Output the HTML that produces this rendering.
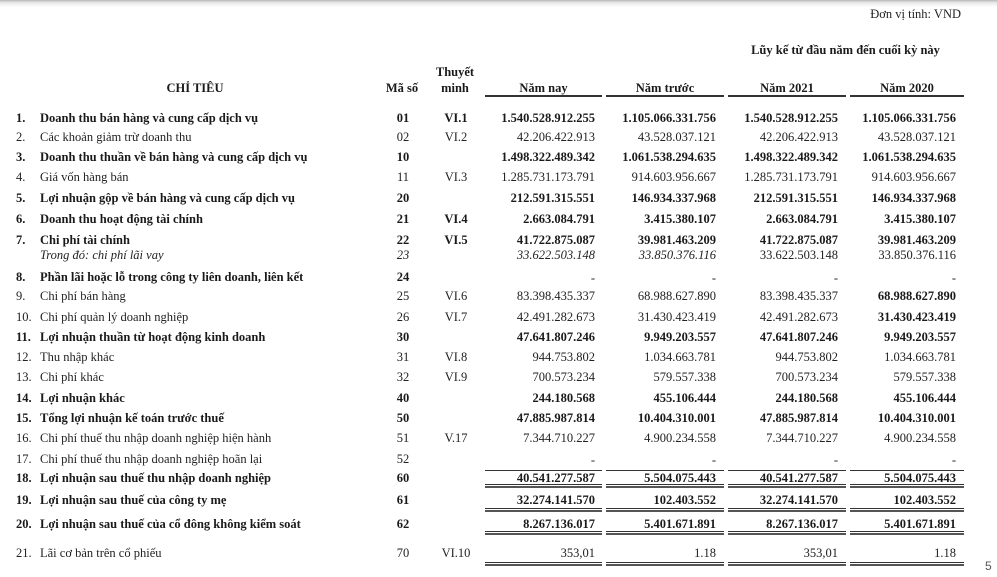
<!DOCTYPE html>
<html>
<head>
<meta charset="utf-8">
<style>
html,body{margin:0;padding:0;background:#fff;}
body{width:997px;height:577px;position:relative;overflow:hidden;font-family:"Liberation Serif",serif;font-size:12.5px;color:#222;}
.topbar{position:absolute;left:0;top:0;width:997px;height:7px;background:linear-gradient(#b8b8b8,#e6e6e6 35%,#fff);}
.t{position:absolute;line-height:14px;white-space:nowrap;}
.b{font-weight:bold;color:#1a1a1a;}
.i{font-style:italic;}
.n{left:16px;}
.l{left:40px;}
.c{left:378px;width:50px;text-align:center;}
.m{left:428px;width:56px;text-align:center;}
.v1{left:440px;width:155px;text-align:right;}
.v2{left:560px;width:156px;text-align:right;}
.v3{left:680px;width:158px;text-align:right;}
.v4{left:800px;width:156px;text-align:right;}
.h{position:absolute;background:#333;}
</style>
</head>
<body>
<div class="topbar"></div>

<div class="t" style="left:800px;width:161px;text-align:right;top:7px;">Đơn vị tính: VND</div>
<div class="t b" style="left:700px;width:291px;text-align:center;top:43px;font-size:12.5px;">Lũy kế từ đầu năm đến cuối kỳ này</div>

<div class="t b" style="left:140px;width:110px;text-align:center;top:81px;">CHỈ TIÊU</div>
<div class="t b" style="left:377px;width:50px;text-align:center;top:81px;">Mã số</div>
<div class="t b" style="left:425px;width:60px;text-align:center;top:65px;">Thuyết</div>
<div class="t b" style="left:425px;width:60px;text-align:center;top:81px;">minh</div>

<div class="t b" style="left:485px;width:117px;text-align:center;top:81px;">Năm nay</div>
<div class="t b" style="left:606px;width:118px;text-align:center;top:81px;">Năm trước</div>
<div class="t b" style="left:728px;width:118px;text-align:center;top:81px;">Năm 2021</div>
<div class="t b" style="left:850px;width:114px;text-align:center;top:81px;">Năm 2020</div>

<div class="h" style="left:485px;top:95px;width:117px;height:1.5px;"></div>
<div class="h" style="left:606px;top:95px;width:118px;height:1.5px;"></div>
<div class="h" style="left:728px;top:95px;width:118px;height:1.5px;"></div>
<div class="h" style="left:850px;top:95px;width:114px;height:1.5px;"></div>

<!-- Row 1 -->
<div class="t b n" style="top:111px">1.</div>
<div class="t b l" style="top:111px">Doanh thu bán hàng và cung cấp dịch vụ</div>
<div class="t b c" style="top:111px">01</div>
<div class="t b m" style="top:111px">VI.1</div>
<div class="t b v1" style="top:111px">1.540.528.912.255</div>
<div class="t b v2" style="top:111px">1.105.066.331.756</div>
<div class="t b v3" style="top:111px">1.540.528.912.255</div>
<div class="t b v4" style="top:111px">1.105.066.331.756</div>

<!-- Row 2 -->
<div class="t n" style="top:130px">2.</div>
<div class="t l" style="top:130px">Các khoản giảm trừ doanh thu</div>
<div class="t c" style="top:130px">02</div>
<div class="t m" style="top:130px">VI.2</div>
<div class="t v1" style="top:130px">42.206.422.913</div>
<div class="t v2" style="top:130px">43.528.037.121</div>
<div class="t v3" style="top:130px">42.206.422.913</div>
<div class="t v4" style="top:130px">43.528.037.121</div>

<!-- Row 3 -->
<div class="t b n" style="top:150px">3.</div>
<div class="t b l" style="top:150px">Doanh thu thuần về bán hàng và cung cấp dịch vụ</div>
<div class="t b c" style="top:150px">10</div>
<div class="t b v1" style="top:150px">1.498.322.489.342</div>
<div class="t b v2" style="top:150px">1.061.538.294.635</div>
<div class="t b v3" style="top:150px">1.498.322.489.342</div>
<div class="t b v4" style="top:150px">1.061.538.294.635</div>

<!-- Row 4 -->
<div class="t n" style="top:170px">4.</div>
<div class="t l" style="top:170px">Giá vốn hàng bán</div>
<div class="t c" style="top:170px">11</div>
<div class="t m" style="top:170px">VI.3</div>
<div class="t v1" style="top:170px">1.285.731.173.791</div>
<div class="t v2" style="top:170px">914.603.956.667</div>
<div class="t v3" style="top:170px">1.285.731.173.791</div>
<div class="t v4" style="top:170px">914.603.956.667</div>

<!-- Row 5 -->
<div class="t b n" style="top:191px">5.</div>
<div class="t b l" style="top:191px">Lợi nhuận gộp về bán hàng và cung cấp dịch vụ</div>
<div class="t b c" style="top:191px">20</div>
<div class="t b v1" style="top:191px">212.591.315.551</div>
<div class="t b v2" style="top:191px">146.934.337.968</div>
<div class="t b v3" style="top:191px">212.591.315.551</div>
<div class="t b v4" style="top:191px">146.934.337.968</div>

<!-- Row 6 -->
<div class="t b n" style="top:212px">6.</div>
<div class="t b l" style="top:212px">Doanh thu hoạt động tài chính</div>
<div class="t b c" style="top:212px">21</div>
<div class="t b m" style="top:212px">VI.4</div>
<div class="t b v1" style="top:212px">2.663.084.791</div>
<div class="t b v2" style="top:212px">3.415.380.107</div>
<div class="t b v3" style="top:212px">2.663.084.791</div>
<div class="t b v4" style="top:212px">3.415.380.107</div>

<!-- Row 7 -->
<div class="t b n" style="top:233px">7.</div>
<div class="t b l" style="top:233px">Chi phí tài chính</div>
<div class="t b c" style="top:233px">22</div>
<div class="t b m" style="top:233px">VI.5</div>
<div class="t b v1" style="top:233px">41.722.875.087</div>
<div class="t b v2" style="top:233px">39.981.463.209</div>
<div class="t b v3" style="top:233px">41.722.875.087</div>
<div class="t b v4" style="top:233px">39.981.463.209</div>

<!-- Row 7b -->
<div class="t i l" style="top:248px">Trong đó: chi phí lãi vay</div>
<div class="t i c" style="top:248px">23</div>
<div class="t i v1" style="top:248px">33.622.503.148</div>
<div class="t i v2" style="top:248px">33.850.376.116</div>
<div class="t v3" style="top:248px">33.622.503.148</div>
<div class="t v4" style="top:248px">33.850.376.116</div>

<!-- Row 8 -->
<div class="t b n" style="top:270px">8.</div>
<div class="t b l" style="top:270px">Phần lãi hoặc lỗ trong công ty liên doanh, liên kết</div>
<div class="t b c" style="top:270px">24</div>
<div class="t v1" style="top:271px">-</div>
<div class="t v2" style="top:271px">-</div>
<div class="t v3" style="top:271px">-</div>
<div class="t v4" style="top:271px">-</div>

<!-- Row 9 -->
<div class="t n" style="top:289px">9.</div>
<div class="t l" style="top:289px">Chi phí bán hàng</div>
<div class="t c" style="top:289px">25</div>
<div class="t m" style="top:289px">VI.6</div>
<div class="t v1" style="top:289px">83.398.435.337</div>
<div class="t v2" style="top:289px">68.988.627.890</div>
<div class="t v3" style="top:289px">83.398.435.337</div>
<div class="t b v4" style="top:289px">68.988.627.890</div>

<!-- Row 10 -->
<div class="t n" style="top:310px">10.</div>
<div class="t l" style="top:310px">Chi phí quản lý doanh nghiệp</div>
<div class="t c" style="top:310px">26</div>
<div class="t m" style="top:310px">VI.7</div>
<div class="t v1" style="top:310px">42.491.282.673</div>
<div class="t v2" style="top:310px">31.430.423.419</div>
<div class="t v3" style="top:310px">42.491.282.673</div>
<div class="t b v4" style="top:310px">31.430.423.419</div>

<!-- Row 11 -->
<div class="t b n" style="top:330px">11.</div>
<div class="t b l" style="top:330px">Lợi nhuận thuần từ hoạt động kinh doanh</div>
<div class="t b c" style="top:330px">30</div>
<div class="t b v1" style="top:330px">47.641.807.246</div>
<div class="t b v2" style="top:330px">9.949.203.557</div>
<div class="t b v3" style="top:330px">47.641.807.246</div>
<div class="t b v4" style="top:330px">9.949.203.557</div>

<!-- Row 12 -->
<div class="t n" style="top:350px">12.</div>
<div class="t l" style="top:350px">Thu nhập khác</div>
<div class="t c" style="top:350px">31</div>
<div class="t m" style="top:350px">VI.8</div>
<div class="t v1" style="top:350px">944.753.802</div>
<div class="t v2" style="top:350px">1.034.663.781</div>
<div class="t v3" style="top:350px">944.753.802</div>
<div class="t v4" style="top:350px">1.034.663.781</div>

<!-- Row 13 -->
<div class="t n" style="top:370px">13.</div>
<div class="t l" style="top:370px">Chi phí khác</div>
<div class="t c" style="top:370px">32</div>
<div class="t m" style="top:370px">VI.9</div>
<div class="t v1" style="top:370px">700.573.234</div>
<div class="t v2" style="top:370px">579.557.338</div>
<div class="t v3" style="top:370px">700.573.234</div>
<div class="t v4" style="top:370px">579.557.338</div>

<!-- Row 14 -->
<div class="t b n" style="top:391px">14.</div>
<div class="t b l" style="top:391px">Lợi nhuận khác</div>
<div class="t b c" style="top:391px">40</div>
<div class="t b v1" style="top:391px">244.180.568</div>
<div class="t b v2" style="top:391px">455.106.444</div>
<div class="t b v3" style="top:391px">244.180.568</div>
<div class="t b v4" style="top:391px">455.106.444</div>

<!-- Row 15 -->
<div class="t b n" style="top:411px">15.</div>
<div class="t b l" style="top:411px">Tổng lợi nhuận kế toán trước thuế</div>
<div class="t b c" style="top:411px">50</div>
<div class="t b v1" style="top:411px">47.885.987.814</div>
<div class="t b v2" style="top:411px">10.404.310.001</div>
<div class="t b v3" style="top:411px">47.885.987.814</div>
<div class="t b v4" style="top:411px">10.404.310.001</div>

<!-- Row 16 -->
<div class="t n" style="top:431px">16.</div>
<div class="t l" style="top:431px">Chi phí thuế thu nhập doanh nghiệp hiện hành</div>
<div class="t c" style="top:431px">51</div>
<div class="t m" style="top:431px">V.17</div>
<div class="t v1" style="top:431px">7.344.710.227</div>
<div class="t v2" style="top:431px">4.900.234.558</div>
<div class="t v3" style="top:431px">7.344.710.227</div>
<div class="t v4" style="top:431px">4.900.234.558</div>

<!-- Row 17 -->
<div class="t n" style="top:452px">17.</div>
<div class="t l" style="top:452px">Chi phí thuế thu nhập doanh nghiệp hoãn lại</div>
<div class="t c" style="top:452px">52</div>
<div class="t v1" style="top:453px">-</div>
<div class="t v2" style="top:453px">-</div>
<div class="t v3" style="top:453px">-</div>
<div class="t v4" style="top:453px">-</div>

<!-- single line -->
<div class="h" style="left:485px;top:470px;width:117px;height:1px;"></div>
<div class="h" style="left:606px;top:470px;width:118px;height:1px;"></div>
<div class="h" style="left:728px;top:470px;width:118px;height:1px;"></div>
<div class="h" style="left:850px;top:470px;width:114px;height:1px;"></div>

<!-- Row 18 -->
<div class="t b n" style="top:471px">18.</div>
<div class="t b l" style="top:471px">Lợi nhuận sau thuế thu nhập doanh nghiệp</div>
<div class="t b c" style="top:471px">60</div>
<div class="t b v1" style="top:471px">40.541.277.587</div>
<div class="t b v2" style="top:471px">5.504.075.443</div>
<div class="t b v3" style="top:471px">40.541.277.587</div>
<div class="t b v4" style="top:471px">5.504.075.443</div>

<div class="h" style="left:485px;top:484px;width:117px;height:1px;"></div>
<div class="h" style="left:606px;top:484px;width:118px;height:1px;"></div>
<div class="h" style="left:728px;top:484px;width:118px;height:1px;"></div>
<div class="h" style="left:850px;top:484px;width:114px;height:1px;"></div>
<div class="h" style="left:485px;top:486px;width:117px;height:2px;background:#555;"></div>
<div class="h" style="left:606px;top:486px;width:118px;height:2px;background:#555;"></div>
<div class="h" style="left:728px;top:486px;width:118px;height:2px;background:#555;"></div>
<div class="h" style="left:850px;top:486px;width:114px;height:2px;background:#555;"></div>

<!-- Row 19 -->
<div class="t b n" style="top:493px">19.</div>
<div class="t b l" style="top:493px">Lợi nhuận sau thuế của công ty mẹ</div>
<div class="t b c" style="top:493px">61</div>
<div class="t b v1" style="top:493px">32.274.141.570</div>
<div class="t b v2" style="top:493px">102.403.552</div>
<div class="t b v3" style="top:493px">32.274.141.570</div>
<div class="t b v4" style="top:493px">102.403.552</div>

<div class="h" style="left:485px;top:508px;width:117px;height:1px;"></div>
<div class="h" style="left:606px;top:508px;width:118px;height:1px;"></div>
<div class="h" style="left:728px;top:508px;width:118px;height:1px;"></div>
<div class="h" style="left:850px;top:508px;width:114px;height:1px;"></div>
<div class="h" style="left:485px;top:510px;width:117px;height:2px;background:#555;"></div>
<div class="h" style="left:606px;top:510px;width:118px;height:2px;background:#555;"></div>
<div class="h" style="left:728px;top:510px;width:118px;height:2px;background:#555;"></div>
<div class="h" style="left:850px;top:510px;width:114px;height:2px;background:#555;"></div>

<!-- Row 20 -->
<div class="t b n" style="top:517px">20.</div>
<div class="t b l" style="top:517px">Lợi nhuận sau thuế của cổ đông không kiểm soát</div>
<div class="t b c" style="top:517px">62</div>
<div class="t b v1" style="top:517px">8.267.136.017</div>
<div class="t b v2" style="top:517px">5.401.671.891</div>
<div class="t b v3" style="top:517px">8.267.136.017</div>
<div class="t b v4" style="top:517px">5.401.671.891</div>

<div class="h" style="left:485px;top:531px;width:117px;height:1px;"></div>
<div class="h" style="left:606px;top:531px;width:118px;height:1px;"></div>
<div class="h" style="left:728px;top:531px;width:118px;height:1px;"></div>
<div class="h" style="left:850px;top:531px;width:114px;height:1px;"></div>
<div class="h" style="left:485px;top:533px;width:117px;height:2px;background:#555;"></div>
<div class="h" style="left:606px;top:533px;width:118px;height:2px;background:#555;"></div>
<div class="h" style="left:728px;top:533px;width:118px;height:2px;background:#555;"></div>
<div class="h" style="left:850px;top:533px;width:114px;height:2px;background:#555;"></div>

<!-- Row 21 -->
<div class="t n" style="top:546px">21.</div>
<div class="t l" style="top:546px">Lãi cơ bản trên cổ phiếu</div>
<div class="t c" style="top:546px">70</div>
<div class="t m" style="top:546px">VI.10</div>
<div class="t v1" style="top:546px">353,01</div>
<div class="t v2" style="top:546px">1.18</div>
<div class="t v3" style="top:546px">353,01</div>
<div class="t v4" style="top:546px">1.18</div>

<div class="h" style="left:485px;top:562px;width:117px;height:1px;"></div>
<div class="h" style="left:606px;top:562px;width:118px;height:1px;"></div>
<div class="h" style="left:728px;top:562px;width:118px;height:1px;"></div>
<div class="h" style="left:850px;top:562px;width:114px;height:1px;"></div>
<div class="h" style="left:485px;top:564px;width:117px;height:2px;background:#555;"></div>
<div class="h" style="left:606px;top:564px;width:118px;height:2px;background:#555;"></div>
<div class="h" style="left:728px;top:564px;width:118px;height:2px;background:#555;"></div>
<div class="h" style="left:850px;top:564px;width:114px;height:2px;background:#555;"></div>

<div class="t" style="left:985px;top:559px;font-family:'Liberation Sans',sans-serif;font-size:12px;color:#555;">5</div>
</body>
</html>
